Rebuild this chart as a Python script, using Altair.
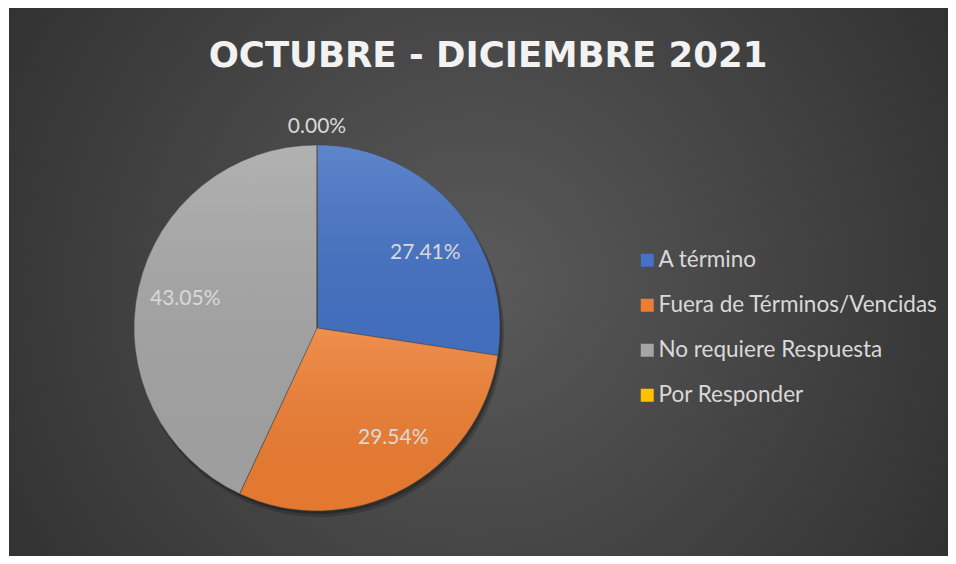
import altair as alt
import pandas as pd

# ---- data ----
title_text = "OCTUBRE - DICIEMBRE 2021"
categories = ["A término", "Fuera de Términos/Vencidas", "No requiere Respuesta", "Por Responder"]
shares = [0.2741, 0.2954, 0.4305, 0.0]
colors = ["#4472C4", "#ED7D31", "#A5A5A5", "#FFC000"]

df = pd.DataFrame({"idx": list(range(len(categories))), "cat": categories, "share": shares})

W, H = 939, 548
CX, CY, R = 308, 320, 183
LABEL_FONT = "Lato"
LABEL_COLOR = "#D9D9D9"

# background panel with radial gradient
bg = alt.Chart(pd.DataFrame({"p": [0]})).mark_rect(
    fill=alt.RadialGradient(
        gradient="radial", x1=0.5, y1=0.5, r1=0, x2=0.5, y2=0.5, r2=0.75,
        stops=[
            alt.GradientStop(color="#5a5a5a", offset=0),
            alt.GradientStop(color="#262626", offset=1),
        ],
    )
).encode(x=alt.value(0), x2=alt.value(W), y=alt.value(0), y2=alt.value(H))

base = (
    alt.Chart(df)
    .transform_window(cum="sum(share)", sort=[{"field": "idx"}], frame=[None, 0])
    .transform_joinaggregate(total="sum(share)")
    .transform_calculate(mid="(datum.cum - datum.share / 2) / datum.total * 2 * PI")
)

theta_stack = alt.Theta("share:Q", stack=True)
order = alt.Order("idx:Q")

shadow1 = base.mark_arc(x=CX + 3, y=CY + 5, outerRadius=R + 1, fill="black", opacity=0.18).encode(
    theta=theta_stack, order=order)
shadow2 = base.mark_arc(x=CX + 2, y=CY + 3, outerRadius=R, fill="black", opacity=0.25).encode(
    theta=theta_stack, order=order)

pie = base.mark_arc(x=CX, y=CY, outerRadius=R, stroke="#3f3f3f", strokeWidth=0.5).encode(
    theta=theta_stack,
    order=order,
    color=alt.Color(
        "cat:N",
        scale=alt.Scale(domain=categories, range=colors),
        sort=categories,
        legend=alt.Legend(
            orient="none", legendX=627, legendY=241, title=None,
            symbolType="square", symbolSize=169, symbolStrokeWidth=0,
            labelFont=LABEL_FONT, labelFontSize=22.5, labelColor=LABEL_COLOR,
            labelOffset=0, rowPadding=22, padding=0, labelLimit=400,
        ),
    ),
)

shade = base.mark_arc(
    x=CX, y=CY, outerRadius=R,
    fill=alt.LinearGradient(
        gradient="linear", x1=0, y1=0, x2=0, y2=1,
        stops=[
            alt.GradientStop(color="rgba(255,255,255,0.14)", offset=0),
            alt.GradientStop(color="rgba(0,0,0,0.04)", offset=1),
        ],
    ),
).encode(theta=theta_stack, order=order)


def label_layer(i, radius, dx, dy):
    return base.transform_filter(alt.datum.idx == i).mark_text(
        x=CX, y=CY, radius=radius, dx=dx, dy=dy,
        font=LABEL_FONT, fontSize=21, color=LABEL_COLOR,
        align="center", baseline="middle",
    ).encode(
        theta=alt.Theta("mid:Q", scale=None, stack=False),
        text=alt.Text("share:Q", format=".2%"),
    )


labels = [
    label_layer(0, 131, 9, 10),
    label_layer(1, 134, 13, -8),
    label_layer(2, 135, 0, 0),
    label_layer(3, 201, 0, 0),
]

title_df = pd.DataFrame({"t": [title_text]})
title = alt.Chart(title_df).mark_text(
    font="DejaVu Sans", fontSize=35.5, fontWeight="bold", color="#F2F2F2",
    align="center", baseline="middle",
).encode(text="t:N", x=alt.value(479), y=alt.value(48))

chart = (
    alt.layer(bg, shadow1, shadow2, pie, shade, *labels, title)
    .properties(
        width=W, height=H, autosize="none",
        padding={"left": 1, "top": 0, "right": 0, "bottom": 0},
        background="white",
    )
    .configure_view(stroke=None)
)

chart.save("out.html", embed_options={"renderer": "svg", "actions": False})
